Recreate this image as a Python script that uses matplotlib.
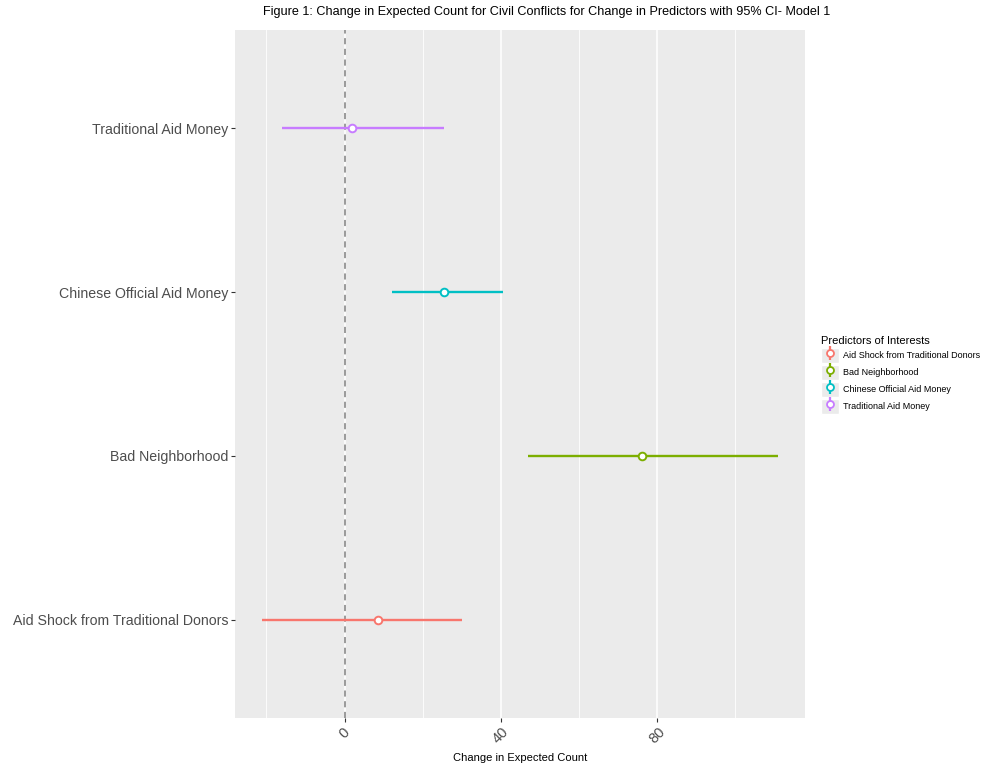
import matplotlib.pyplot as plt
from matplotlib.lines import Line2D
from matplotlib.patches import Rectangle
from matplotlib.legend_handler import HandlerTuple

plt.rcParams['font.family'] = ['Liberation Sans', 'DejaVu Sans']

# Datos
predictores = ["Aid Shock from Traditional Donors", "Bad Neighborhood",
               "Chinese Official Aid Money", "Traditional Aid Money"]
estimado = [8.5, 76.0, 25.5, 1.8]
inferior = [-21.2, 47.0, 12.2, -16.0]
superior = [30.0, 110.8, 40.5, 25.4]
colores = ["#F8766D", "#7CAE00", "#00BFC4", "#C77CFF"]
ticks_x = [0, 40, 80]
ticks_menores = [-20, 20, 60, 100]

fig = plt.figure(figsize=(9.81, 7.68), dpi=100)
ax = fig.add_axes([0.2396, 0.0651, 0.5810, 0.8958])
ax.set_facecolor("#EBEBEB")
for s in ax.spines.values():
    s.set_visible(False)

# cuadricula estilo ggplot
for v in ticks_menores:
    ax.axvline(v, color="white", lw=0.6, zorder=0)
for v in ticks_x:
    ax.axvline(v, color="white", lw=1.1, zorder=0)

ax.axvline(0, color="#808080", lw=1.1, ls=(0, (4, 3)), zorder=1)

for i, nombre in enumerate(predictores):
    y = i + 1
    ax.plot([inferior[i], superior[i]], [y, y], color=colores[i], lw=1.7,
            solid_capstyle="butt", zorder=2)
    ax.plot(estimado[i], y, "o", ms=5.5, mfc="white", mec=colores[i], mew=1.4, zorder=3)

ax.set_xlim(-28, 117.8)
ax.set_ylim(0.4, 4.6)
ax.set_yticks(range(1, 5))
ax.set_yticklabels(predictores, fontsize=10.2, color="#4D4D4D")
ax.set_xticks(ticks_x)
ax.set_xticklabels([str(t) for t in ticks_x], rotation=45, ha="center",
                   fontsize=10.5, color="#4D4D4D")
ax.tick_params(axis="both", length=3, color="#333333", width=0.8, pad=2)
ax.set_xlabel("Change in Expected Count", fontsize=8, labelpad=5)

fig.text(0.557, 0.984, "Figure 1: Change in Expected Count for Civil Conflicts for "
         "Change in Predictors with 95% CI- Model 1", ha="center", va="center", fontsize=9.1)

# leyenda con claves verticales
handles = []
for c in colores:
    fondo = Rectangle((0, 0), 1, 1, facecolor="#EBEBEB", edgecolor="white", lw=1)
    barra = Line2D([], [], marker="|", ms=10, mew=1.6, color=c, ls="none")
    punto = Line2D([], [], marker="o", ms=5, mfc="white", mec=c, mew=1.3, ls="none")
    handles.append((fondo, barra, punto))
leg = fig.legend(handles, predictores, loc="upper left", bbox_to_anchor=(0.833, 0.567),
                 title="Predictors of Interests", fontsize=6.5, title_fontsize=8,
                 frameon=False, handler_map={tuple: HandlerTuple(ndivide=1)},
                 handlelength=2.0, handleheight=2.3, labelspacing=0.15,
                 handletextpad=0.5, borderaxespad=0)
leg._legend_box.align = "left"

fig.savefig("out.png", dpi=100)
